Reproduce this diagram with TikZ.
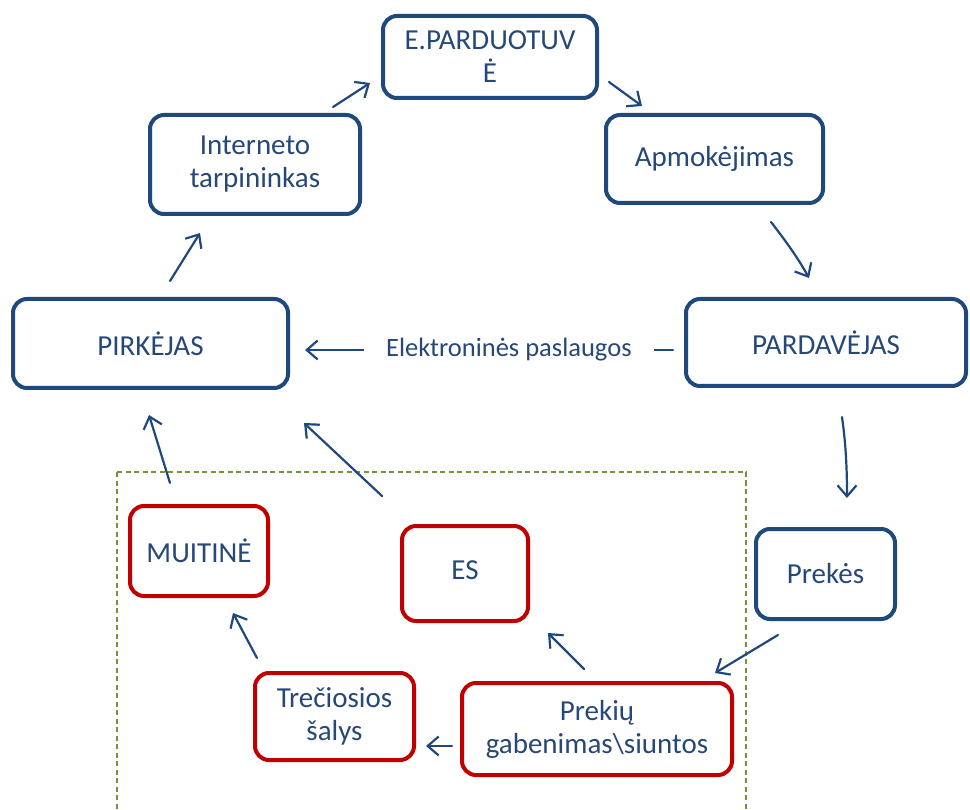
\documentclass[tikz,border=0pt]{standalone}
\usepackage{fontspec}
\setmainfont{Carlito}
\usetikzlibrary{arrows.meta}
\definecolor{navy}{RGB}{31,73,125}
\definecolor{txtblue}{RGB}{38,72,120}
\definecolor{boxred}{RGB}{192,0,0}
\definecolor{olivegreen}{RGB}{119,147,60}
\begin{document}
\begin{tikzpicture}[x=1pt,y=-1pt,
  box/.style={draw=navy, line width=4pt, rounded corners=14pt, align=center,
    text=txtblue, font=\fontsize{29}{33}\selectfont, inner sep=0pt},
  redbox/.style={box, draw=boxred},
  arr/.style={draw=navy, line width=2.2pt, line cap=round,
    -{Straight Barb[length=11pt,width=19pt]}},
  frame/.style={draw=olivegreen, line width=1.2pt, dash pattern=on 5pt off 3.5pt}]
\useasboundingbox (0,0) rectangle (970,810);

% dashed region
\draw[frame] (117,472) -- (746,472) -- (746,815) (117,472) -- (117,815);

% nodes
\node[box, minimum width=214pt, minimum height=82pt] (eshop) at (490,57) {E.PARDUOTUV\\Ė};
\node[box, minimum width=210pt, minimum height=99pt] (inter) at (255,164.5) {Interneto\\tarpininkas};
\node[box, minimum width=217pt, minimum height=88pt] (apmok) at (714.5,159) {Apmokėjimas};
\node[box, minimum width=275pt, minimum height=89pt] (pirk) at (150.5,343.5) {PIRKĖJAS};
\node[box, minimum width=280pt, minimum height=87pt] (pard) at (826,342.5) {PARDAVĖJAS};
\node[box, minimum width=139pt, minimum height=90pt] (prek) at (825.5,574) {Prekės};
\node[redbox, minimum width=138pt, minimum height=90pt] (muit) at (199,551) {MUITINĖ};
\node[redbox, minimum width=126pt, minimum height=95pt] (es) at (465,573.5) {\raisebox{7pt}{ES}};
\node[redbox, minimum width=159pt, minimum height=87pt] (trec) at (334.5,716.5) {Trečiosios\\šalys};
\node[redbox, minimum width=270pt, minimum height=92pt] (prekiu) at (597,729) {Prekių\\gabenimas\textbackslash siuntos};

% arrow end points
\coordinate (a1s) at (333,107);  \coordinate (a1e) at (370,83);
\coordinate (a2s) at (609,82);   \coordinate (a2e) at (642,106);
\coordinate (a3s) at (771,222);  \coordinate (a3e) at (809,278);
\coordinate (a4s) at (842,417);  \coordinate (a4e) at (847,498);
\coordinate (a5s) at (778,635);  \coordinate (a5e) at (715,673);
\coordinate (a6s) at (584,669);  \coordinate (a6e) at (548,633);
\coordinate (a7s) at (452,746);  \coordinate (a7e) at (426,746);
\coordinate (a8s) at (257,658);  \coordinate (a8e) at (233,613);
\coordinate (a9s) at (170,483);  \coordinate (a9e) at (149,415);
\coordinate (a10s) at (382,496); \coordinate (a10e) at (304,423);
\coordinate (a11s) at (170,281); \coordinate (a11e) at (200,233);
\coordinate (els) at (673,350);  \coordinate (ele) at (305,350);

% connectors
\draw[arr] (a11s) -- (a11e);
\draw[arr] (a1s) -- (a1e);
\draw[arr] (a2s) -- (a2e);
\draw[arr] (a3s) .. controls (785,240) and (798,258) .. (a3e);
\draw[arr] (a4s) .. controls (846,445) and (847,470) .. (a4e);
\draw[arr] (a5s) -- (a5e);
\draw[arr] (a6s) -- (a6e);
\draw[arr] (a7s) -- (a7e);
\draw[arr] (a8s) -- (a8e);
\draw[arr] (a9s) -- (a9e);
\draw[arr] (a10s) -- (a10e);
\draw[arr] (els) -- node[pos=0.446, fill=white, inner xsep=22.5pt, inner ysep=4pt,
  text=txtblue, font=\fontsize{26.5}{30}\selectfont] (elab) {Elektroninės paslaugos} (ele);
\end{tikzpicture}
\end{document}
